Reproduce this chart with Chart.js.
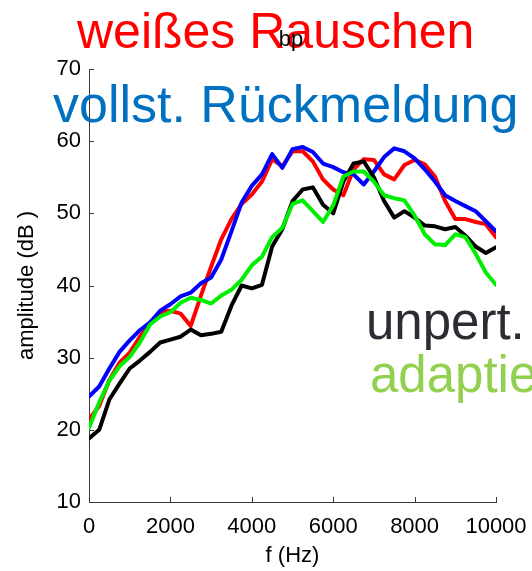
<!DOCTYPE html>
<html>
<head>
<meta charset="utf-8">
<script src="https://cdn.jsdelivr.net/npm/chart.js@4.4.1/dist/chart.umd.min.js"></script>
<style>
  html, body { margin: 0; padding: 0; background: #fff; }
  #wrap { width: 532px; height: 571px; position: relative; }
</style>
</head>
<body>
<div id="wrap"><canvas id="chart"></canvas></div>
<script>
// frequency grid (Hz)
const freqHz = [0, 250, 500, 750, 1000, 1250, 1500, 1750, 2000, 2250, 2500, 2750, 3000, 3250,
  3500, 3750, 4000, 4250, 4500, 4750, 5000, 5250, 5500, 5750, 6000, 6250, 6500, 6750, 7000,
  7250, 7500, 7750, 8000, 8250, 8500, 8750, 9000, 9250, 9500, 9750, 10000];

// amplitude (dB) per condition
const weissesRauschen = [21.4, 23.3, 26.9, 29.3, 30.7, 32.9, 34.7, 36.3, 36.5, 36.1, 34.4, 38.6,
  42.6, 46.4, 49.2, 51.3, 52.6, 54.4, 57.5, 56.5, 58.6, 58.6, 57.2, 54.7, 53.3, 52.5, 56.1, 57.5,
  57.4, 55.4, 54.7, 56.7, 57.4, 56.8, 55.1, 51.7, 49.2, 49.2, 48.8, 48.5, 46.7];
const vollstRueckmeldung = [24.6, 26.0, 28.5, 30.8, 32.4, 33.8, 34.9, 36.5, 37.4, 38.5, 39.0, 40.3,
  41.1, 43.6, 47.5, 51.5, 53.8, 55.4, 58.2, 56.3, 58.9, 59.2, 58.5, 56.9, 56.4, 55.7, 55.4, 54.0,
  55.8, 57.8, 59.0, 58.6, 57.6, 56.1, 54.4, 52.5, 51.7, 51.0, 50.3, 48.9, 47.5];
const unpert = [18.8, 20.0, 24.2, 26.4, 28.5, 29.6, 30.8, 32.1, 32.5, 32.9, 33.9, 33.1, 33.3, 33.6,
  37.2, 40.0, 39.6, 40.1, 45.4, 47.8, 51.7, 53.3, 53.6, 51.2, 50.0, 54.4, 56.9, 57.2, 55.0, 51.7,
  49.4, 50.3, 49.4, 48.3, 48.2, 47.8, 48.1, 46.9, 45.4, 44.5, 45.3];
const adaptiert = [20.3, 23.8, 26.8, 28.8, 30.1, 32.1, 34.6, 35.7, 36.3, 37.6, 38.3, 38.0, 37.5,
  38.6, 39.4, 40.8, 42.8, 44.0, 46.7, 48.0, 51.3, 51.8, 50.3, 48.8, 51.1, 55.1, 55.8, 55.8, 54.4,
  52.5, 52.1, 51.8, 49.7, 47.1, 45.7, 45.6, 47.1, 46.7, 44.4, 41.8, 40.1];

const xTicks = [0, 2000, 4000, 6000, 8000, 10000];
const yTicks = [10, 20, 30, 40, 50, 60, 70];

const plotTitle = "bp";
const legendTexts = ["weißes Rauschen", "vollst. Rückmeldung", "unpert.", "adaptiert"];

function toPoints(values) {
  return freqHz.map((f, i) => ({x: f, y: values[i]}));
}

const FONT = "'Liberation Sans', Arial, sans-serif";
const AXIS_COLOR = "#3a3a3a";

// inward tick marks like the original figure
const innerTicks = {
  id: "innerTicks",
  afterDraw(chart) {
    const {ctx, chartArea, scales} = chart;
    ctx.save();
    ctx.strokeStyle = AXIS_COLOR;
    ctx.lineWidth = 1;
    ctx.beginPath();
    xTicks.forEach((v) => {
      const px = Math.round(scales.x.getPixelForValue(v)) + 0.5;
      ctx.moveTo(px, chartArea.bottom);
      ctx.lineTo(px, chartArea.bottom - 5);
    });
    yTicks.forEach((v) => {
      const py = Math.round(scales.y.getPixelForValue(v)) + 0.5;
      ctx.moveTo(chartArea.left, py);
      ctx.lineTo(chartArea.left + 5, py);
    });
    ctx.stroke();
    ctx.restore();
  },
};

// big coloured labels pasted over the figure
const overlayText = {
  id: "overlayText",
  afterDraw(chart) {
    const ctx = chart.ctx;
    ctx.save();
    ctx.textAlign = "left";
    ctx.textBaseline = "alphabetic";
    const items = [
      {text: legendTexts[0], color: "#ff0000", size: 50, x: 77, y: 48},
      {text: legendTexts[1], color: "#0070c0", size: 52, x: 53, y: 122},
      {text: legendTexts[2], color: "#2c2c34", size: 51, x: 366, y: 339},
      {text: legendTexts[3], color: "#92d050", size: 51, x: 370, y: 392},
    ];
    items.forEach((t) => {
      ctx.font = t.size + "px " + FONT;
      ctx.fillStyle = t.color;
      ctx.fillText(t.text, t.x, t.y);
    });
    ctx.textAlign = "center";
    ctx.font = "22px " + FONT;
    ctx.fillStyle = "#000";
    ctx.fillText(plotTitle, 291, 46);
    ctx.restore();
  },
};

const lineStyle = {
  borderWidth: 4,
  pointRadius: 0,
  tension: 0,
  fill: false,
  borderJoinStyle: "round",
  borderCapStyle: "round",
};

new Chart(document.getElementById("chart"), {
  type: "line",
  data: {
    datasets: [
      {label: legendTexts[3], data: toPoints(adaptiert), borderColor: "#00ee00", ...lineStyle},
      {label: legendTexts[2], data: toPoints(unpert), borderColor: "#000000", ...lineStyle},
      {label: legendTexts[1], data: toPoints(vollstRueckmeldung), borderColor: "#0000ff", ...lineStyle},
      {label: legendTexts[0], data: toPoints(weissesRauschen), borderColor: "#ff0000", ...lineStyle},
    ],
  },
  options: {
    responsive: true,
    maintainAspectRatio: false,
    animation: false,
    layout: {padding: {top: 69, right: 36, left: 0, bottom: 0}},
    plugins: {
      legend: {display: false},
      tooltip: {enabled: false},
      title: {display: false},
    },
    scales: {
      x: {
        type: "linear",
        min: 0,
        max: 10000,
        afterFit: (s) => {
          s.height = 69;
          s.paddingLeft = 0;
          s.paddingRight = 0;
        },
        afterBuildTicks: (s) => { s.ticks = xTicks.map((v) => ({value: v})); },
        grid: {display: false, drawTicks: false},
        border: {display: true, color: AXIS_COLOR, width: 1},
        ticks: {
          autoSkip: false,
          maxRotation: 0,
          padding: 12,
          color: "#000",
          font: {family: FONT, size: 22},
          callback: (v) => String(v),
        },
        title: {
          display: true,
          text: "f (Hz)",
          color: "#000",
          font: {family: FONT, size: 22},
          padding: {top: 0, bottom: 2},
        },
      },
      y: {
        type: "linear",
        min: 10,
        max: 70,
        afterFit: (s) => {
          s.width = 89;
          s.paddingTop = 0;
          s.paddingBottom = 0;
        },
        afterBuildTicks: (s) => { s.ticks = yTicks.map((v) => ({value: v})); },
        grid: {display: false, drawTicks: false},
        border: {display: true, color: AXIS_COLOR, width: 1},
        ticks: {
          autoSkip: false,
          padding: 8,
          color: "#000",
          font: {family: FONT, size: 22},
          callback: (v) => String(v),
        },
        title: {
          display: true,
          text: "amplitude (dB )",
          color: "#000",
          font: {family: FONT, size: 22},
          padding: {top: 14, bottom: 0},
        },
      },
    },
  },
  plugins: [innerTicks, overlayText],
});
</script>
</body>
</html>
